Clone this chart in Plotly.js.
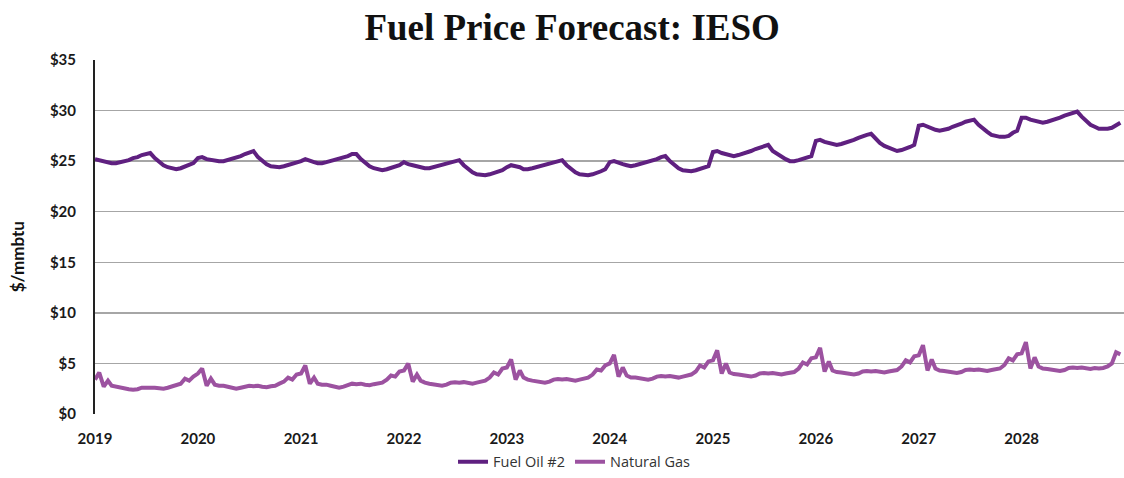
<!DOCTYPE html>
<html>
<head>
<meta charset="utf-8">
<script src="https://cdn.plot.ly/plotly-3.0.1.min.js"></script>
<style>
  html, body { margin: 0; padding: 0; background: #fff; }
  #plot { width: 1124px; height: 478px; }
</style>
</head>
<body>
<div id="plot"></div>
<script>
// --- Data (semi-monthly: 1st and 16th of each month) ---
const years = [2019, 2020, 2021, 2022, 2023, 2024, 2025, 2026, 2027, 2028];
const halfMonthDays = ["01", "16"];

// $/mmbtu, one row per year, Jan 1 .. Dec 16
const fuelOil = [
  25.2, 25.1, 24.9, 24.8, 24.8, 24.8, 24.9, 25.0, 25.1, 25.3, 25.4, 25.6, 25.7, 25.8, 25.3, 24.9, 24.6, 24.4, 24.3, 24.2, 24.3, 24.5, 24.7, 24.8,
  25.3, 25.4, 25.2, 25.1, 25.0, 25.0, 25.0, 25.1, 25.2, 25.4, 25.5, 25.7, 25.8, 26.0, 25.4, 25.0, 24.7, 24.5, 24.4, 24.4, 24.5, 24.6, 24.8, 24.9,
  25.0, 25.2, 25.0, 24.9, 24.8, 24.8, 24.9, 25.0, 25.1, 25.2, 25.4, 25.5, 25.7, 25.7, 25.2, 24.8, 24.5, 24.3, 24.2, 24.1, 24.2, 24.3, 24.4, 24.6,
  24.9, 24.7, 24.6, 24.5, 24.4, 24.3, 24.3, 24.4, 24.5, 24.6, 24.7, 24.9, 25.0, 25.1, 24.6, 24.2, 23.9, 23.7, 23.6, 23.6, 23.7, 23.8, 24.0, 24.1,
  24.4, 24.6, 24.5, 24.4, 24.2, 24.2, 24.3, 24.4, 24.5, 24.6, 24.7, 24.9, 25.0, 25.1, 24.6, 24.2, 23.9, 23.7, 23.6, 23.6, 23.7, 23.8, 24.0, 24.2,
  24.9, 25.0, 24.8, 24.7, 24.6, 24.5, 24.6, 24.7, 24.8, 24.9, 25.1, 25.2, 25.4, 25.5, 25.0, 24.6, 24.3, 24.1, 24.0, 24.0, 24.1, 24.2, 24.3, 24.5,
  25.9, 26.0, 25.8, 25.7, 25.6, 25.5, 25.6, 25.7, 25.8, 26.0, 26.2, 26.3, 26.5, 26.6, 26.0, 25.7, 25.4, 25.2, 25.0, 25.0, 25.1, 25.2, 25.4, 25.5,
  27.0, 27.1, 26.9, 26.8, 26.7, 26.6, 26.7, 26.8, 27.0, 27.1, 27.3, 27.5, 27.6, 27.7, 27.2, 26.8, 26.5, 26.3, 26.1, 26.0, 26.1, 26.2, 26.4, 26.6,
  28.5, 28.6, 28.4, 28.2, 28.1, 28.0, 28.1, 28.2, 28.4, 28.5, 28.7, 28.9, 29.0, 29.1, 28.6, 28.2, 27.9, 27.6, 27.5, 27.4, 27.4, 27.5, 27.8, 28.0,
  29.3, 29.3, 29.1, 29.0, 28.9, 28.8, 28.9, 29.0, 29.1, 29.3, 29.5, 29.6, 29.8, 29.9, 29.4, 29.0, 28.6, 28.4, 28.2, 28.2, 28.2, 28.3, 28.5, 28.8
];

const naturalGas = [
  3.4, 4.1, 2.7, 3.3, 2.8, 2.7, 2.6, 2.55, 2.45, 2.4, 2.45, 2.6, 2.65, 2.6, 2.6, 2.55, 2.5, 2.6, 2.7, 2.9, 3.0, 3.5, 3.3, 3.7,
  4.0, 4.5, 2.8, 3.5, 2.9, 2.8, 2.8, 2.7, 2.55, 2.5, 2.6, 2.75, 2.8, 2.75, 2.8, 2.7, 2.65, 2.75, 2.8, 3.0, 3.2, 3.6, 3.4, 3.9,
  4.0, 4.8, 3.0, 3.6, 3.0, 2.9, 2.9, 2.8, 2.7, 2.6, 2.7, 2.9, 3.0, 2.95, 3.0, 2.9, 2.85, 2.95, 3.0, 3.1, 3.4, 3.8, 3.7, 4.2,
  4.3, 5.0, 3.2, 3.9, 3.3, 3.1, 3.0, 2.9, 2.85, 2.8, 2.9, 3.1, 3.15, 3.1, 3.15, 3.05, 3.0, 3.1, 3.2, 3.3, 3.6, 4.1, 3.9, 4.5,
  4.6, 5.4, 3.4, 4.3, 3.6, 3.4, 3.3, 3.2, 3.1, 3.1, 3.2, 3.4, 3.45, 3.4, 3.45, 3.35, 3.3, 3.4, 3.5, 3.6, 3.9, 4.4, 4.3, 4.8,
  5.0, 5.85, 3.7, 4.6, 3.8, 3.6, 3.6, 3.5, 3.4, 3.4, 3.5, 3.7, 3.75, 3.7, 3.75, 3.65, 3.6, 3.7, 3.8, 3.9, 4.2, 4.8, 4.6, 5.2,
  5.3, 6.3, 4.0, 5.0, 4.1, 3.95, 3.9, 3.8, 3.75, 3.7, 3.8, 4.0, 4.05, 4.0, 4.05, 3.95, 3.9, 4.0, 4.05, 4.15, 4.5, 5.1, 4.9, 5.5,
  5.6, 6.55, 4.2, 5.2, 4.3, 4.15, 4.1, 4.0, 3.9, 3.9, 4.0, 4.2, 4.25, 4.2, 4.25, 4.15, 4.1, 4.2, 4.25, 4.35, 4.7, 5.3, 5.1, 5.7,
  5.8, 6.8, 4.3, 5.4, 4.5, 4.3, 4.25, 4.15, 4.05, 4.05, 4.15, 4.35, 4.4, 4.35, 4.4, 4.3, 4.25, 4.35, 4.4, 4.5, 4.85, 5.5, 5.3, 5.9,
  6.0, 7.1, 4.5, 5.6, 4.7, 4.5, 4.45, 4.35, 4.25, 4.25, 4.35, 4.55, 4.6, 4.55, 4.6, 4.5, 4.45, 4.55, 4.5, 4.55, 4.7, 5.0, 6.1, 5.9
];

const yTickVals = [0, 5, 10, 15, 20, 25, 30, 35];
const yTickText = ["$0", "$5", "$10", "$15", "$20", "$25", "$30", "$35"];

// build the date axis from the years
const dates = [];
years.forEach(y => {
  for (let m = 1; m <= 12; m++) {
    halfMonthDays.forEach(d => dates.push(`${y}-${String(m).padStart(2, "0")}-${d}`));
  }
});
const yearTicks = years.map(y => `${y}-01-01`);

const oilColor = "#5f2080";
const gasColor = "#9c52a0";
const tickFont = { family: "Lato, 'Open Sans', sans-serif", size: 15, color: "#1a1a1a", weight: "bold" };

const traces = [
  {
    x: dates, y: fuelOil, type: "scatter", mode: "lines", name: "Fuel Oil #2",
    line: { color: oilColor, width: 4 }
  },
  {
    x: dates, y: naturalGas, type: "scatter", mode: "lines", name: "Natural Gas",
    line: { color: gasColor, width: 4 }
  }
];

const layout = {
  width: 1124,
  height: 478,
  margin: { l: 95, r: 0, t: 60, b: 59 },
  paper_bgcolor: "#fff",
  plot_bgcolor: "#fff",
  title: {
    text: "<b>Fuel Price Forecast: IESO</b>",
    font: { family: "'Liberation Serif', 'DejaVu Serif', serif", size: 37, color: "#111" },
    xref: "container", x: 0.509, xanchor: "center",
    yref: "container", y: 0.944, yanchor: "middle"
  },
  xaxis: {
    type: "date",
    range: ["2019-01-01", "2028-12-29"],
    tickvals: yearTicks,
    ticktext: years.map(String),
    tickfont: tickFont,
    showgrid: false,
    zeroline: false,
    showline: false,
    ticks: "",
    ticklabelstandoff: 14
  },
  yaxis: {
    range: [0, 35],
    tickvals: yTickVals,
    ticktext: yTickText,
    tickfont: tickFont,
    showgrid: true,
    gridcolor: "#a6a6a6",
    gridwidth: 1.5,
    zeroline: false,
    showline: true,
    linecolor: "#222",
    linewidth: 2,
    ticks: "",
    ticklabelstandoff: 14
  },
  annotations: [{
    text: "<b>$/mmbtu</b>",
    font: { family: "Lato, 'Open Sans', sans-serif", size: 17, color: "#111" },
    textangle: -90,
    xref: "paper", x: -0.075, xanchor: "center",
    yref: "paper", y: 0.445, yanchor: "middle",
    showarrow: false
  }],
  showlegend: true,
  legend: {
    orientation: "h",
    x: 0.466, xanchor: "center",
    y: -0.09, yanchor: "top",
    font: { family: "'Open Sans', sans-serif", size: 14.5, color: "#333" },
    itemwidth: 30,
    bgcolor: "rgba(0,0,0,0)"
  }
};

Plotly.newPlot("plot", traces, layout, { displayModeBar: false, staticPlot: true });
</script>
</body>
</html>
